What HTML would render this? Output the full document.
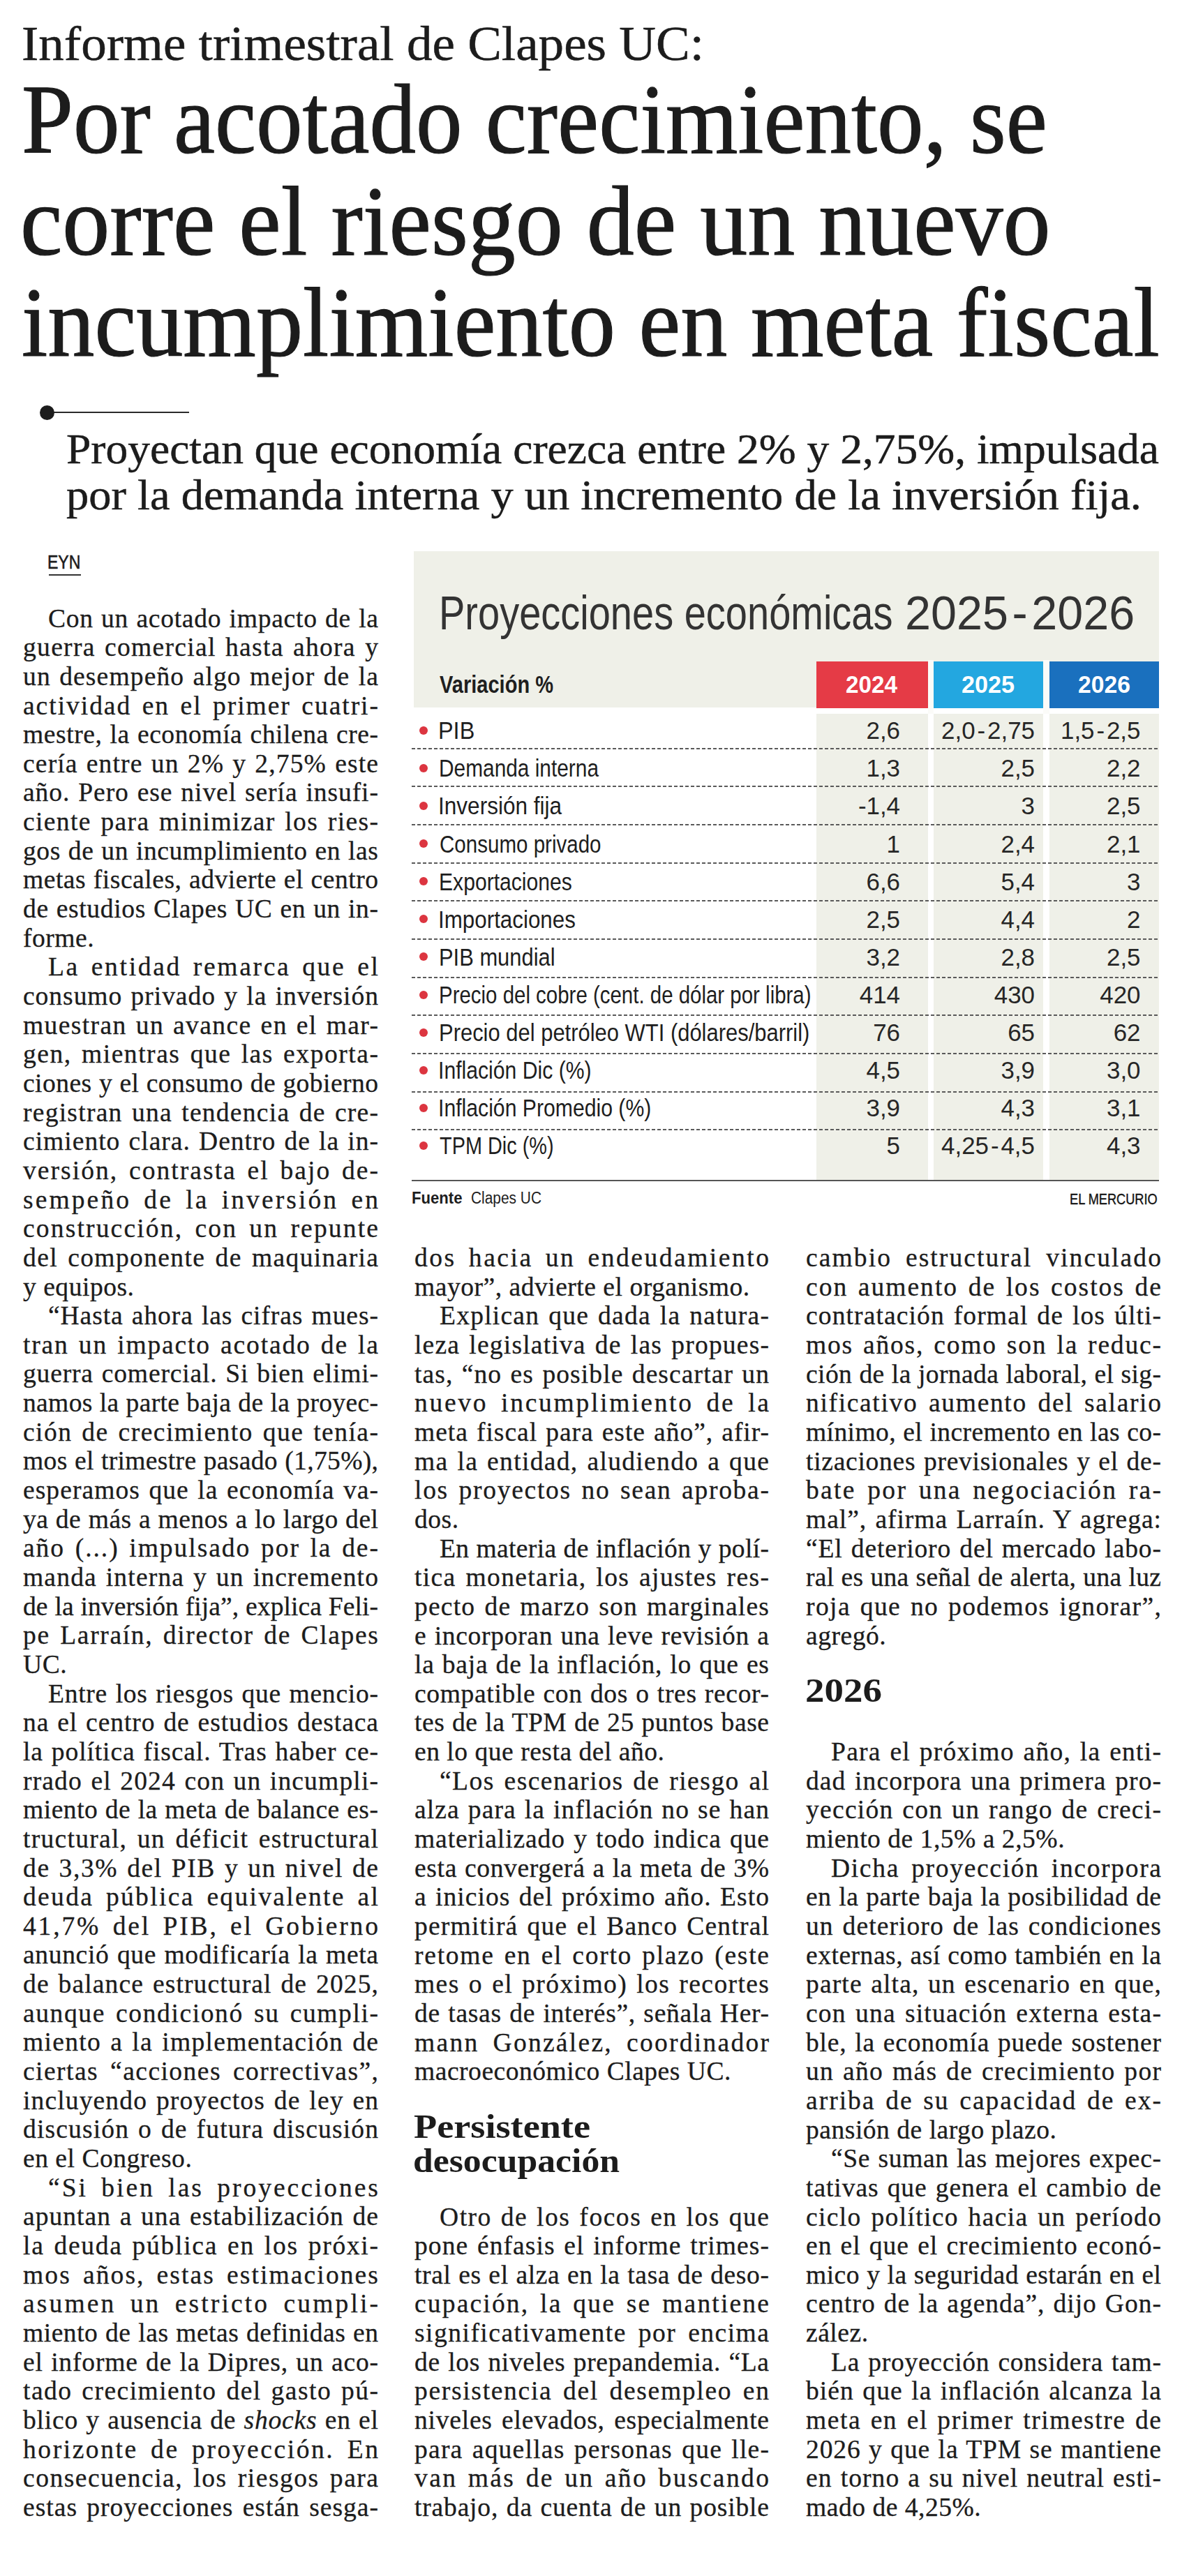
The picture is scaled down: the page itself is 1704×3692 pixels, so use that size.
<!DOCTYPE html>
<html><head><meta charset="utf-8"><title>Informe trimestral de Clapes UC</title>
<style>
html,body{margin:0;padding:0;background:#fff;}
body{width:1704px;height:3692px;position:relative;overflow:hidden;}
.t{position:absolute;white-space:nowrap;transform-origin:0 0;}
.b{position:absolute;font-family:'Liberation Serif', serif;font-size:37.6px;line-height:37.6px;color:#1c1c1c;white-space:nowrap;-webkit-text-stroke:0.3px #1c1c1c;}
.j{text-align:justify;text-align-last:justify;white-space:normal;height:37.6px;overflow:visible;}
.dash{position:absolute;height:2px;background-image:linear-gradient(to right,#5a5a5a 0,#5a5a5a 5px,transparent 5px,transparent 8px);background-size:8px 2px;}
</style></head><body>
<div class="t" id="kick" style="left:30.98px;top:27.2px;font-size:70.20px;line-height:70.20px;font-family:'Liberation Serif', serif;font-weight:400;color:#1c1c1c;transform:scaleX(1.0411);-webkit-text-stroke:0.5px #1c1c1c;">Informe trimestral de Clapes UC:</div>
<div class="t" id="hl0" style="left:30.89px;top:100.1px;font-size:142.00px;line-height:142.00px;font-family:'Liberation Serif', serif;font-weight:400;color:#1c1c1c;transform:scaleX(0.9366);-webkit-text-stroke:1.2px #1c1c1c;">Por acotado crecimiento, se</div>
<div class="t" id="hl1" style="left:28.96px;top:245.6px;font-size:142.00px;line-height:142.00px;font-family:'Liberation Serif', serif;font-weight:400;color:#1c1c1c;transform:scaleX(0.9578);-webkit-text-stroke:1.2px #1c1c1c;">corre el riesgo de un nuevo</div>
<div class="t" id="hl2" style="left:31.44px;top:391.1px;font-size:142.00px;line-height:142.00px;font-family:'Liberation Serif', serif;font-weight:400;color:#1c1c1c;transform:scaleX(0.9464);-webkit-text-stroke:1.2px #1c1c1c;">incumplimiento en meta fiscal</div>
<div style="position:absolute;left:70px;top:589.5px;width:201px;height:2px;background:#2a2a2a"></div>
<div style="position:absolute;left:57px;top:580.5px;width:21px;height:21px;border-radius:50%;background:#1c1c1c"></div>
<div class="t" id="dk0" style="left:95.00px;top:612.9px;font-size:61.00px;line-height:61.00px;font-family:'Liberation Serif', serif;font-weight:400;color:#1c1c1c;transform:scaleX(1.0412);-webkit-text-stroke:0.5px #1c1c1c;">Proyectan que economía crezca entre 2% y 2,75%, impulsada</div>
<div class="t" id="dk1" style="left:95.00px;top:678.9px;font-size:61.00px;line-height:61.00px;font-family:'Liberation Serif', serif;font-weight:400;color:#1c1c1c;transform:scaleX(1.0566);-webkit-text-stroke:0.5px #1c1c1c;">por la demanda interna y un incremento de la inversión fija.</div>
<div class="t" id="eyn" style="left:67.85px;top:792.1px;font-size:27.60px;line-height:27.60px;font-family:'Liberation Sans', sans-serif;font-weight:400;color:#1c1c1c;transform:scaleX(0.8339);-webkit-text-stroke:0.6px #1c1c1c;">EYN</div>
<div style="position:absolute;left:70px;top:822.5px;width:46px;height:2px;background:#333"></div>
<div style="position:absolute;left:593px;top:790px;width:1068px;height:224px;background:#eff0e8"></div>
<div style="position:absolute;left:1170px;top:1023px;width:160px;height:669px;background:#eff0e8"></div>
<div style="position:absolute;left:1170px;top:948px;width:160px;height:67px;background:#e53b46"></div>
<div style="position:absolute;left:1338px;top:1023px;width:157px;height:669px;background:#eff0e8"></div>
<div style="position:absolute;left:1338px;top:948px;width:157px;height:67px;background:#23a7e0"></div>
<div style="position:absolute;left:1504px;top:1023px;width:157px;height:669px;background:#eff0e8"></div>
<div style="position:absolute;left:1504px;top:948px;width:157px;height:67px;background:#1a70be"></div>
<div style="position:absolute;left:1330px;top:946px;width:8px;height:77px;background:#fbfbf8"></div>
<div style="position:absolute;left:1495px;top:946px;width:9px;height:77px;background:#fbfbf8"></div>
<div class="t" id="ttl" style="left:628.95px;top:843.9px;font-size:68.00px;line-height:68.00px;font-family:'Liberation Sans', sans-serif;font-weight:400;color:#333;transform:scaleX(0.8235);">Proyecciones económicas</div>
<div class="t" id="ttl2" style="left:1296.94px;top:843.9px;font-size:68.00px;line-height:68.00px;font-family:'Liberation Sans', sans-serif;font-weight:400;color:#333;transform:scaleX(0.9779);">2025&#8202;-&#8202;2026</div>
<div class="t" id="var" style="left:630.00px;top:964.0px;font-size:34.90px;line-height:34.90px;font-family:'Liberation Sans', sans-serif;font-weight:700;color:#1e1e1e;transform:scaleX(0.8322);">Variación %</div>
<div class="t" id="yh2024" style="left:1212.48px;top:964.0px;font-size:34.90px;line-height:34.90px;font-family:'Liberation Sans', sans-serif;font-weight:700;color:#fff;transform:scaleX(0.9535);">2024</div>
<div class="t" id="yh2025" style="left:1377.91px;top:964.0px;font-size:34.90px;line-height:34.90px;font-family:'Liberation Sans', sans-serif;font-weight:700;color:#fff;transform:scaleX(0.9807);">2025</div>
<div class="t" id="yh2026" style="left:1544.97px;top:964.0px;font-size:34.90px;line-height:34.90px;font-family:'Liberation Sans', sans-serif;font-weight:700;color:#fff;transform:scaleX(0.9669);">2026</div>
<div style="position:absolute;left:601px;top:1040.7px;width:12px;height:12px;border-radius:50%;background:#dc3540"></div>
<div class="t" id="lab0" style="left:627.81px;top:1030.2px;font-size:34.90px;line-height:34.90px;font-family:'Liberation Sans', sans-serif;font-weight:400;color:#1e1e1e;transform:scaleX(0.9292);">PIB</div>
<div class="t" id="v0_0" style="left:1241.5px;top:1030.2px;font-size:34.9px;line-height:34.9px;font-family:'Liberation Sans', sans-serif;color:#262626;transform:scaleX(1.0);transform-origin:100% 0">2,6</div>
<div class="t" id="v0_1" style="left:1349.1px;top:1030.2px;font-size:34.9px;line-height:34.9px;font-family:'Liberation Sans', sans-serif;color:#262626;transform:scaleX(1.0);transform-origin:100% 0">2,0&#8202;-&#8202;2,75</div>
<div class="t" id="v0_2" style="left:1520.0px;top:1030.2px;font-size:34.9px;line-height:34.9px;font-family:'Liberation Sans', sans-serif;color:#262626;transform:scaleX(1.0);transform-origin:100% 0">1,5&#8202;-&#8202;2,5</div>
<div class="dash" style="left:590px;top:1071.5px;width:1071px"></div>
<div style="position:absolute;left:601px;top:1094.8px;width:12px;height:12px;border-radius:50%;background:#dc3540"></div>
<div class="t" id="lab1" style="left:628.98px;top:1084.3px;font-size:34.90px;line-height:34.90px;font-family:'Liberation Sans', sans-serif;font-weight:400;color:#1e1e1e;transform:scaleX(0.8556);">Demanda interna</div>
<div class="t" id="v1_0" style="left:1241.5px;top:1084.3px;font-size:34.9px;line-height:34.9px;font-family:'Liberation Sans', sans-serif;color:#262626;transform:scaleX(1.0);transform-origin:100% 0">1,3</div>
<div class="t" id="v1_1" style="left:1434.5px;top:1084.3px;font-size:34.9px;line-height:34.9px;font-family:'Liberation Sans', sans-serif;color:#262626;transform:scaleX(1.0);transform-origin:100% 0">2,5</div>
<div class="t" id="v1_2" style="left:1586.0px;top:1084.3px;font-size:34.9px;line-height:34.9px;font-family:'Liberation Sans', sans-serif;color:#262626;transform:scaleX(1.0);transform-origin:100% 0">2,2</div>
<div class="dash" style="left:590px;top:1126.2px;width:1071px"></div>
<div style="position:absolute;left:601px;top:1148.9px;width:12px;height:12px;border-radius:50%;background:#dc3540"></div>
<div class="t" id="lab2" style="left:627.94px;top:1138.4px;font-size:34.90px;line-height:34.90px;font-family:'Liberation Sans', sans-serif;font-weight:400;color:#1e1e1e;transform:scaleX(0.9045);">Inversión fija</div>
<div class="t" id="v2_0" style="left:1229.9px;top:1138.4px;font-size:34.9px;line-height:34.9px;font-family:'Liberation Sans', sans-serif;color:#262626;transform:scaleX(1.0);transform-origin:100% 0">-1,4</div>
<div class="t" id="v2_1" style="left:1463.6px;top:1138.4px;font-size:34.9px;line-height:34.9px;font-family:'Liberation Sans', sans-serif;color:#262626;transform:scaleX(1.0);transform-origin:100% 0">3</div>
<div class="t" id="v2_2" style="left:1586.0px;top:1138.4px;font-size:34.9px;line-height:34.9px;font-family:'Liberation Sans', sans-serif;color:#262626;transform:scaleX(1.0);transform-origin:100% 0">2,5</div>
<div class="dash" style="left:590px;top:1180.9px;width:1071px"></div>
<div style="position:absolute;left:601px;top:1203.0px;width:12px;height:12px;border-radius:50%;background:#dc3540"></div>
<div class="t" id="lab3" style="left:629.99px;top:1192.5px;font-size:34.90px;line-height:34.90px;font-family:'Liberation Sans', sans-serif;font-weight:400;color:#1e1e1e;transform:scaleX(0.8467);">Consumo privado</div>
<div class="t" id="v3_0" style="left:1270.6px;top:1192.5px;font-size:34.9px;line-height:34.9px;font-family:'Liberation Sans', sans-serif;color:#262626;transform:scaleX(1.0);transform-origin:100% 0">1</div>
<div class="t" id="v3_1" style="left:1434.5px;top:1192.5px;font-size:34.9px;line-height:34.9px;font-family:'Liberation Sans', sans-serif;color:#262626;transform:scaleX(1.0);transform-origin:100% 0">2,4</div>
<div class="t" id="v3_2" style="left:1586.0px;top:1192.5px;font-size:34.9px;line-height:34.9px;font-family:'Liberation Sans', sans-serif;color:#262626;transform:scaleX(1.0);transform-origin:100% 0">2,1</div>
<div class="dash" style="left:590px;top:1235.5px;width:1071px"></div>
<div style="position:absolute;left:601px;top:1257.1px;width:12px;height:12px;border-radius:50%;background:#dc3540"></div>
<div class="t" id="lab4" style="left:628.97px;top:1246.6px;font-size:34.90px;line-height:34.90px;font-family:'Liberation Sans', sans-serif;font-weight:400;color:#1e1e1e;transform:scaleX(0.8631);">Exportaciones</div>
<div class="t" id="v4_0" style="left:1241.5px;top:1246.6px;font-size:34.9px;line-height:34.9px;font-family:'Liberation Sans', sans-serif;color:#262626;transform:scaleX(1.0);transform-origin:100% 0">6,6</div>
<div class="t" id="v4_1" style="left:1434.5px;top:1246.6px;font-size:34.9px;line-height:34.9px;font-family:'Liberation Sans', sans-serif;color:#262626;transform:scaleX(1.0);transform-origin:100% 0">5,4</div>
<div class="t" id="v4_2" style="left:1615.1px;top:1246.6px;font-size:34.9px;line-height:34.9px;font-family:'Liberation Sans', sans-serif;color:#262626;transform:scaleX(1.0);transform-origin:100% 0">3</div>
<div class="dash" style="left:590px;top:1290.2px;width:1071px"></div>
<div style="position:absolute;left:601px;top:1311.2px;width:12px;height:12px;border-radius:50%;background:#dc3540"></div>
<div class="t" id="lab5" style="left:627.94px;top:1300.7px;font-size:34.90px;line-height:34.90px;font-family:'Liberation Sans', sans-serif;font-weight:400;color:#1e1e1e;transform:scaleX(0.8985);">Importaciones</div>
<div class="t" id="v5_0" style="left:1241.5px;top:1300.7px;font-size:34.9px;line-height:34.9px;font-family:'Liberation Sans', sans-serif;color:#262626;transform:scaleX(1.0);transform-origin:100% 0">2,5</div>
<div class="t" id="v5_1" style="left:1434.5px;top:1300.7px;font-size:34.9px;line-height:34.9px;font-family:'Liberation Sans', sans-serif;color:#262626;transform:scaleX(1.0);transform-origin:100% 0">4,4</div>
<div class="t" id="v5_2" style="left:1615.1px;top:1300.7px;font-size:34.9px;line-height:34.9px;font-family:'Liberation Sans', sans-serif;color:#262626;transform:scaleX(1.0);transform-origin:100% 0">2</div>
<div class="dash" style="left:590px;top:1344.9px;width:1071px"></div>
<div style="position:absolute;left:601px;top:1365.4px;width:12px;height:12px;border-radius:50%;background:#dc3540"></div>
<div class="t" id="lab6" style="left:628.96px;top:1354.8px;font-size:34.90px;line-height:34.90px;font-family:'Liberation Sans', sans-serif;font-weight:400;color:#1e1e1e;transform:scaleX(0.8855);">PIB mundial</div>
<div class="t" id="v6_0" style="left:1241.5px;top:1354.8px;font-size:34.9px;line-height:34.9px;font-family:'Liberation Sans', sans-serif;color:#262626;transform:scaleX(1.0);transform-origin:100% 0">3,2</div>
<div class="t" id="v6_1" style="left:1434.5px;top:1354.8px;font-size:34.9px;line-height:34.9px;font-family:'Liberation Sans', sans-serif;color:#262626;transform:scaleX(1.0);transform-origin:100% 0">2,8</div>
<div class="t" id="v6_2" style="left:1586.0px;top:1354.8px;font-size:34.9px;line-height:34.9px;font-family:'Liberation Sans', sans-serif;color:#262626;transform:scaleX(1.0);transform-origin:100% 0">2,5</div>
<div class="dash" style="left:590px;top:1399.6px;width:1071px"></div>
<div style="position:absolute;left:601px;top:1419.5px;width:12px;height:12px;border-radius:50%;background:#dc3540"></div>
<div class="t" id="lab7" style="left:628.99px;top:1408.9px;font-size:34.90px;line-height:34.90px;font-family:'Liberation Sans', sans-serif;font-weight:400;color:#1e1e1e;transform:scaleX(0.8439);">Precio del cobre (cent. de dólar por libra)</div>
<div class="t" id="v7_0" style="left:1231.8px;top:1408.9px;font-size:34.9px;line-height:34.9px;font-family:'Liberation Sans', sans-serif;color:#262626;transform:scaleX(1.0);transform-origin:100% 0">414</div>
<div class="t" id="v7_1" style="left:1424.8px;top:1408.9px;font-size:34.9px;line-height:34.9px;font-family:'Liberation Sans', sans-serif;color:#262626;transform:scaleX(1.0);transform-origin:100% 0">430</div>
<div class="t" id="v7_2" style="left:1576.3px;top:1408.9px;font-size:34.9px;line-height:34.9px;font-family:'Liberation Sans', sans-serif;color:#262626;transform:scaleX(1.0);transform-origin:100% 0">420</div>
<div class="dash" style="left:590px;top:1454.3px;width:1071px"></div>
<div style="position:absolute;left:601px;top:1473.6px;width:12px;height:12px;border-radius:50%;background:#dc3540"></div>
<div class="t" id="lab8" style="left:628.98px;top:1463.0px;font-size:34.90px;line-height:34.90px;font-family:'Liberation Sans', sans-serif;font-weight:400;color:#1e1e1e;transform:scaleX(0.8868);">Precio del petróleo WTI (dólares/barril)</div>
<div class="t" id="v8_0" style="left:1251.2px;top:1463.0px;font-size:34.9px;line-height:34.9px;font-family:'Liberation Sans', sans-serif;color:#262626;transform:scaleX(1.0);transform-origin:100% 0">76</div>
<div class="t" id="v8_1" style="left:1444.2px;top:1463.0px;font-size:34.9px;line-height:34.9px;font-family:'Liberation Sans', sans-serif;color:#262626;transform:scaleX(1.0);transform-origin:100% 0">65</div>
<div class="t" id="v8_2" style="left:1595.7px;top:1463.0px;font-size:34.9px;line-height:34.9px;font-family:'Liberation Sans', sans-serif;color:#262626;transform:scaleX(1.0);transform-origin:100% 0">62</div>
<div class="dash" style="left:590px;top:1508.9px;width:1071px"></div>
<div style="position:absolute;left:601px;top:1527.7px;width:12px;height:12px;border-radius:50%;background:#dc3540"></div>
<div class="t" id="lab9" style="left:627.93px;top:1517.1px;font-size:34.90px;line-height:34.90px;font-family:'Liberation Sans', sans-serif;font-weight:400;color:#1e1e1e;transform:scaleX(0.8646);">Inflación Dic (%)</div>
<div class="t" id="v9_0" style="left:1241.5px;top:1517.1px;font-size:34.9px;line-height:34.9px;font-family:'Liberation Sans', sans-serif;color:#262626;transform:scaleX(1.0);transform-origin:100% 0">4,5</div>
<div class="t" id="v9_1" style="left:1434.5px;top:1517.1px;font-size:34.9px;line-height:34.9px;font-family:'Liberation Sans', sans-serif;color:#262626;transform:scaleX(1.0);transform-origin:100% 0">3,9</div>
<div class="t" id="v9_2" style="left:1586.0px;top:1517.1px;font-size:34.9px;line-height:34.9px;font-family:'Liberation Sans', sans-serif;color:#262626;transform:scaleX(1.0);transform-origin:100% 0">3,0</div>
<div class="dash" style="left:590px;top:1563.6px;width:1071px"></div>
<div style="position:absolute;left:601px;top:1581.8px;width:12px;height:12px;border-radius:50%;background:#dc3540"></div>
<div class="t" id="lab10" style="left:627.95px;top:1571.3px;font-size:34.90px;line-height:34.90px;font-family:'Liberation Sans', sans-serif;font-weight:400;color:#1e1e1e;transform:scaleX(0.8650);">Inflación Promedio (%)</div>
<div class="t" id="v10_0" style="left:1241.5px;top:1571.3px;font-size:34.9px;line-height:34.9px;font-family:'Liberation Sans', sans-serif;color:#262626;transform:scaleX(1.0);transform-origin:100% 0">3,9</div>
<div class="t" id="v10_1" style="left:1434.5px;top:1571.3px;font-size:34.9px;line-height:34.9px;font-family:'Liberation Sans', sans-serif;color:#262626;transform:scaleX(1.0);transform-origin:100% 0">4,3</div>
<div class="t" id="v10_2" style="left:1586.0px;top:1571.3px;font-size:34.9px;line-height:34.9px;font-family:'Liberation Sans', sans-serif;color:#262626;transform:scaleX(1.0);transform-origin:100% 0">3,1</div>
<div class="dash" style="left:590px;top:1618.3px;width:1071px"></div>
<div style="position:absolute;left:601px;top:1635.9px;width:12px;height:12px;border-radius:50%;background:#dc3540"></div>
<div class="t" id="lab11" style="left:629.99px;top:1625.4px;font-size:34.90px;line-height:34.90px;font-family:'Liberation Sans', sans-serif;font-weight:400;color:#1e1e1e;transform:scaleX(0.8273);">TPM Dic (%)</div>
<div class="t" id="v11_0" style="left:1270.6px;top:1625.4px;font-size:34.9px;line-height:34.9px;font-family:'Liberation Sans', sans-serif;color:#262626;transform:scaleX(1.0);transform-origin:100% 0">5</div>
<div class="t" id="v11_1" style="left:1349.1px;top:1625.4px;font-size:34.9px;line-height:34.9px;font-family:'Liberation Sans', sans-serif;color:#262626;transform:scaleX(1.0);transform-origin:100% 0">4,25&#8202;-&#8202;4,5</div>
<div class="t" id="v11_2" style="left:1586.0px;top:1625.4px;font-size:34.9px;line-height:34.9px;font-family:'Liberation Sans', sans-serif;color:#262626;transform:scaleX(1.0);transform-origin:100% 0">4,3</div>
<div style="position:absolute;left:590px;top:1691px;width:1071px;height:2px;background:#555"></div>
<div class="t" id="fu" style="left:589.99px;top:1704.6px;font-size:24.70px;line-height:24.70px;font-family:'Liberation Sans', sans-serif;font-weight:700;color:#1e1e1e;transform:scaleX(0.8965);">Fuente</div>
<div class="t" id="cl" style="left:674.98px;top:1704.6px;font-size:24.70px;line-height:24.70px;font-family:'Liberation Sans', sans-serif;font-weight:400;color:#1e1e1e;transform:scaleX(0.8464);">Clapes UC</div>
<div class="t" id="em" style="left:1532.85px;top:1707.5px;font-size:21.80px;line-height:21.80px;font-family:'Liberation Sans', sans-serif;font-weight:400;color:#151515;transform:scaleX(0.8348);-webkit-text-stroke:0.4px #151515;">EL MERCURIO</div>
<div class="b j" id="c1l0" style="left:69px;top:867.5px;width:473.72px;letter-spacing:0.724px;">Con un acotado impacto de la</div>
<div class="b j" id="c1l1" style="left:33px;top:909.2px;width:510.28px;letter-spacing:1.277px;">guerra comercial hasta ahora y</div>
<div class="b j" id="c1l2" style="left:33px;top:950.8px;width:510.12px;letter-spacing:1.116px;">un desempeño algo mejor de la</div>
<div class="b j" id="c1l3" style="left:33px;top:992.5px;width:510.94px;letter-spacing:1.943px;">actividad en el primer cuatri-</div>
<div class="b j" id="c1l4" style="left:33px;top:1034.1px;width:509.55px;letter-spacing:0.545px;">mestre, la economía chilena cre-</div>
<div class="b j" id="c1l5" style="left:33px;top:1075.8px;width:510.14px;letter-spacing:1.136px;">cería entre un 2% y 2,75% este</div>
<div class="b j" id="c1l6" style="left:33px;top:1117.4px;width:509.90px;letter-spacing:0.905px;">año. Pero ese nivel sería insufi-</div>
<div class="b j" id="c1l7" style="left:33px;top:1159.1px;width:510.34px;letter-spacing:1.342px;">ciente para minimizar los ries-</div>
<div class="b j" id="c1l8" style="left:33px;top:1200.7px;width:509.56px;letter-spacing:0.557px;">gos de un incumplimiento en las</div>
<div class="b j" id="c1l9" style="left:33px;top:1242.4px;width:509.50px;letter-spacing:0.500px;">metas fiscales, advierte el centro</div>
<div class="b j" id="c1l10" style="left:33px;top:1284.0px;width:509.64px;letter-spacing:0.638px;">de estudios Clapes UC en un in-</div>
<div class="b" id="c1l11" style="left:33px;top:1325.7px;width:509.00px;letter-spacing:0.5px;">forme.</div>
<div class="b j" id="c1l12" style="left:69px;top:1367.3px;width:475.65px;letter-spacing:2.651px;">La entidad remarca que el</div>
<div class="b j" id="c1l13" style="left:33px;top:1409.0px;width:509.94px;letter-spacing:0.938px;">consumo privado y la inversión</div>
<div class="b j" id="c1l14" style="left:33px;top:1450.6px;width:510.37px;letter-spacing:1.369px;">muestran un avance en el mar-</div>
<div class="b j" id="c1l15" style="left:33px;top:1492.3px;width:510.52px;letter-spacing:1.525px;">gen, mientras que las exporta-</div>
<div class="b j" id="c1l16" style="left:33px;top:1533.9px;width:509.43px;letter-spacing:0.431px;">ciones y el consumo de gobierno</div>
<div class="b j" id="c1l17" style="left:33px;top:1575.6px;width:510.24px;letter-spacing:1.235px;">registran una tendencia de cre-</div>
<div class="b j" id="c1l18" style="left:33px;top:1617.2px;width:509.99px;letter-spacing:0.987px;">cimiento clara. Dentro de la in-</div>
<div class="b j" id="c1l19" style="left:33px;top:1658.9px;width:511.03px;letter-spacing:2.026px;">versión, contrasta el bajo de-</div>
<div class="b j" id="c1l20" style="left:33px;top:1700.5px;width:512.08px;letter-spacing:3.075px;">sempeño de la inversión en</div>
<div class="b j" id="c1l21" style="left:33px;top:1742.2px;width:511.14px;letter-spacing:2.140px;">construcción, con un repunte</div>
<div class="b j" id="c1l22" style="left:33px;top:1783.8px;width:510.34px;letter-spacing:1.336px;">del componente de maquinaria</div>
<div class="b" id="c1l23" style="left:33px;top:1825.5px;width:509.00px;letter-spacing:0.5px;">y equipos.</div>
<div class="b j" id="c1l24" style="left:69px;top:1867.1px;width:473.90px;letter-spacing:0.902px;">“Hasta ahora las cifras mues-</div>
<div class="b j" id="c1l25" style="left:33px;top:1908.8px;width:510.81px;letter-spacing:1.808px;">tran un impacto acotado de la</div>
<div class="b j" id="c1l26" style="left:33px;top:1950.4px;width:509.80px;letter-spacing:0.804px;">guerra comercial. Si bien elimi-</div>
<div class="b j" id="c1l27" style="left:33px;top:1992.1px;width:509.31px;letter-spacing:0.314px;">namos la parte baja de la proyec-</div>
<div class="b j" id="c1l28" style="left:33px;top:2033.7px;width:510.44px;letter-spacing:1.443px;">ción de crecimiento que tenía-</div>
<div class="b j" id="c1l29" style="left:33px;top:2075.4px;width:509.32px;letter-spacing:0.320px;">mos el trimestre pasado (1,75%),</div>
<div class="b j" id="c1l30" style="left:33px;top:2117.0px;width:510.03px;letter-spacing:1.031px;">esperamos que la economía va-</div>
<div class="b j" id="c1l31" style="left:33px;top:2158.7px;width:509.50px;letter-spacing:0.500px;">ya de más a menos a lo largo del</div>
<div class="b j" id="c1l32" style="left:33px;top:2200.3px;width:510.94px;letter-spacing:1.941px;">año (...) impulsado por la de-</div>
<div class="b j" id="c1l33" style="left:33px;top:2242.0px;width:510.14px;letter-spacing:1.145px;">manda interna y un incremento</div>
<div class="b j" id="c1l34" style="left:33px;top:2283.6px;width:509.06px;letter-spacing:0.055px;">de la inversión fija”, explica Feli-</div>
<div class="b j" id="c1l35" style="left:33px;top:2325.3px;width:510.64px;letter-spacing:1.637px;">pe Larraín, director de Clapes</div>
<div class="b" id="c1l36" style="left:33px;top:2366.9px;width:509.00px;letter-spacing:0.5px;">UC.</div>
<div class="b j" id="c1l37" style="left:69px;top:2408.6px;width:473.73px;letter-spacing:0.727px;">Entre los riesgos que mencio-</div>
<div class="b j" id="c1l38" style="left:33px;top:2450.2px;width:509.91px;letter-spacing:0.908px;">na el centro de estudios destaca</div>
<div class="b j" id="c1l39" style="left:33px;top:2491.9px;width:509.88px;letter-spacing:0.879px;">la política fiscal. Tras haber ce-</div>
<div class="b j" id="c1l40" style="left:33px;top:2533.5px;width:510.13px;letter-spacing:1.134px;">rrado el 2024 con un incumpli-</div>
<div class="b j" id="c1l41" style="left:33px;top:2575.2px;width:509.50px;letter-spacing:0.500px;">miento de la meta de balance es-</div>
<div class="b j" id="c1l42" style="left:33px;top:2616.8px;width:510.26px;letter-spacing:1.260px;">tructural, un déficit estructural</div>
<div class="b j" id="c1l43" style="left:33px;top:2658.5px;width:510.60px;letter-spacing:1.603px;">de 3,3% del PIB y un nivel de</div>
<div class="b j" id="c1l44" style="left:33px;top:2700.1px;width:511.29px;letter-spacing:2.291px;">deuda pública equivalente al</div>
<div class="b j" id="c1l45" style="left:33px;top:2741.8px;width:511.82px;letter-spacing:2.816px;">41,7% del PIB, el Gobierno</div>
<div class="b j" id="c1l46" style="left:33px;top:2783.4px;width:509.64px;letter-spacing:0.642px;">anunció que modificaría la meta</div>
<div class="b j" id="c1l47" style="left:33px;top:2825.1px;width:510.10px;letter-spacing:1.100px;">de balance estructural de 2025,</div>
<div class="b j" id="c1l48" style="left:33px;top:2866.7px;width:510.57px;letter-spacing:1.572px;">aunque condicionó su cumpli-</div>
<div class="b j" id="c1l49" style="left:33px;top:2908.4px;width:510.26px;letter-spacing:1.260px;">miento a la implementación de</div>
<div class="b j" id="c1l50" style="left:33px;top:2950.0px;width:510.43px;letter-spacing:1.425px;">ciertas “acciones correctivas”,</div>
<div class="b j" id="c1l51" style="left:33px;top:2991.7px;width:510.11px;letter-spacing:1.107px;">incluyendo proyectos de ley en</div>
<div class="b j" id="c1l52" style="left:33px;top:3033.3px;width:510.12px;letter-spacing:1.123px;">discusión o de futura discusión</div>
<div class="b" id="c1l53" style="left:33px;top:3075.0px;width:509.00px;letter-spacing:0.5px;">en el Congreso.</div>
<div class="b j" id="c1l54" style="left:69px;top:3116.6px;width:475.95px;letter-spacing:2.947px;">“Si bien las proyecciones</div>
<div class="b j" id="c1l55" style="left:33px;top:3158.3px;width:510.02px;letter-spacing:1.019px;">apuntan a una estabilización de</div>
<div class="b j" id="c1l56" style="left:33px;top:3199.9px;width:510.69px;letter-spacing:1.691px;">la deuda pública en los próxi-</div>
<div class="b j" id="c1l57" style="left:33px;top:3241.6px;width:511.08px;letter-spacing:2.079px;">mos años, estas estimaciones</div>
<div class="b j" id="c1l58" style="left:33px;top:3283.2px;width:512.11px;letter-spacing:3.106px;">asumen un estricto cumpli-</div>
<div class="b j" id="c1l59" style="left:33px;top:3324.9px;width:509.50px;letter-spacing:0.500px;">miento de las metas definidas en</div>
<div class="b j" id="c1l60" style="left:33px;top:3366.5px;width:509.80px;letter-spacing:0.804px;">el informe de la Dipres, un aco-</div>
<div class="b j" id="c1l61" style="left:33px;top:3408.2px;width:510.44px;letter-spacing:1.441px;">tado crecimiento del gasto pú-</div>
<div class="b j" id="c1l62" style="left:33px;top:3449.8px;width:509.78px;letter-spacing:0.777px;">blico y ausencia de <i>shocks</i> en el</div>
<div class="b j" id="c1l63" style="left:33px;top:3491.5px;width:511.53px;letter-spacing:2.529px;">horizonte de proyección. En</div>
<div class="b j" id="c1l64" style="left:33px;top:3533.1px;width:510.50px;letter-spacing:1.497px;">consecuencia, los riesgos para</div>
<div class="b j" id="c1l65" style="left:33px;top:3574.8px;width:509.99px;letter-spacing:0.991px;">estas proyecciones están sesga-</div>
<div class="b j" id="c2l0" style="left:594px;top:1784.0px;width:510.50px;letter-spacing:2.499px;">dos hacia un endeudamiento</div>
<div class="b" id="c2l1" style="left:594px;top:1825.7px;width:508.00px;letter-spacing:0.5px;">mayor”, advierte el organismo.</div>
<div class="b j" id="c2l2" style="left:630px;top:1867.3px;width:473.20px;letter-spacing:1.204px;">Explican que dada la natura-</div>
<div class="b j" id="c2l3" style="left:594px;top:1909.0px;width:509.17px;letter-spacing:1.170px;">leza legislativa de las propues-</div>
<div class="b j" id="c2l4" style="left:594px;top:1950.6px;width:509.06px;letter-spacing:1.065px;">tas, “no es posible descartar un</div>
<div class="b j" id="c2l5" style="left:594px;top:1992.3px;width:510.69px;letter-spacing:2.690px;">nuevo incumplimiento de la</div>
<div class="b j" id="c2l6" style="left:594px;top:2033.9px;width:508.95px;letter-spacing:0.953px;">meta fiscal para este año”, afir-</div>
<div class="b j" id="c2l7" style="left:594px;top:2075.6px;width:509.30px;letter-spacing:1.303px;">ma la entidad, aludiendo a que</div>
<div class="b j" id="c2l8" style="left:594px;top:2117.2px;width:509.69px;letter-spacing:1.693px;">los proyectos no sean aproba-</div>
<div class="b" id="c2l9" style="left:594px;top:2158.9px;width:508.00px;letter-spacing:0.5px;">dos.</div>
<div class="b j" id="c2l10" style="left:630px;top:2200.5px;width:472.32px;letter-spacing:0.317px;">En materia de inflación y polí-</div>
<div class="b j" id="c2l11" style="left:594px;top:2242.2px;width:509.35px;letter-spacing:1.352px;">tica monetaria, los ajustes res-</div>
<div class="b j" id="c2l12" style="left:594px;top:2283.8px;width:509.19px;letter-spacing:1.194px;">pecto de marzo son marginales</div>
<div class="b j" id="c2l13" style="left:594px;top:2325.5px;width:508.68px;letter-spacing:0.675px;">e incorporan una leve revisión a</div>
<div class="b j" id="c2l14" style="left:594px;top:2367.1px;width:508.76px;letter-spacing:0.757px;">la baja de la inflación, lo que es</div>
<div class="b j" id="c2l15" style="left:594px;top:2408.8px;width:508.64px;letter-spacing:0.641px;">compatible con dos o tres recor-</div>
<div class="b j" id="c2l16" style="left:594px;top:2450.4px;width:508.55px;letter-spacing:0.549px;">tes de la TPM de 25 puntos base</div>
<div class="b" id="c2l17" style="left:594px;top:2492.1px;width:508.00px;letter-spacing:0.5px;">en lo que resta del año.</div>
<div class="b j" id="c2l18" style="left:630px;top:2533.7px;width:473.44px;letter-spacing:1.442px;">“Los escenarios de riesgo al</div>
<div class="b j" id="c2l19" style="left:594px;top:2575.4px;width:509.07px;letter-spacing:1.067px;">alza para la inflación no se han</div>
<div class="b j" id="c2l20" style="left:594px;top:2617.0px;width:508.88px;letter-spacing:0.884px;">materializado y todo indica que</div>
<div class="b j" id="c2l21" style="left:594px;top:2658.7px;width:508.63px;letter-spacing:0.635px;">esta convergerá a la meta de 3%</div>
<div class="b j" id="c2l22" style="left:594px;top:2700.3px;width:509.04px;letter-spacing:1.044px;">a inicios del próximo año. Esto</div>
<div class="b j" id="c2l23" style="left:594px;top:2742.0px;width:509.19px;letter-spacing:1.192px;">permitirá que el Banco Central</div>
<div class="b j" id="c2l24" style="left:594px;top:2783.6px;width:509.72px;letter-spacing:1.722px;">retome en el corto plazo (este</div>
<div class="b j" id="c2l25" style="left:594px;top:2825.3px;width:509.38px;letter-spacing:1.385px;">mes o el próximo) los recortes</div>
<div class="b j" id="c2l26" style="left:594px;top:2866.9px;width:508.70px;letter-spacing:0.698px;">de tasas de interés”, señala Her-</div>
<div class="b j" id="c2l27" style="left:594px;top:2908.6px;width:510.24px;letter-spacing:2.243px;">mann González, coordinador</div>
<div class="b" id="c2l28" style="left:594px;top:2950.2px;width:508.00px;letter-spacing:0.5px;">macroeconómico Clapes UC.</div>
<div class="t" id="c2s0" style="left:592.99px;top:3024.1px;font-size:48.90px;line-height:48.90px;font-family:'Liberation Serif', serif;font-weight:700;color:#1c1c1c;transform:scaleX(1.1094);">Persistente</div>
<div class="t" id="c2s1" style="left:591.98px;top:3073.1px;font-size:48.90px;line-height:48.90px;font-family:'Liberation Serif', serif;font-weight:700;color:#1c1c1c;transform:scaleX(1.0580);">desocupación</div>
<div class="b j" id="c2l29" style="left:630px;top:3158.5px;width:473.50px;letter-spacing:1.499px;">Otro de los focos en los que</div>
<div class="b j" id="c2l30" style="left:594px;top:3200.1px;width:509.05px;letter-spacing:1.045px;">pone énfasis el informe trimes-</div>
<div class="b j" id="c2l31" style="left:594px;top:3241.8px;width:508.59px;letter-spacing:0.594px;">tral es el alza en la tasa de deso-</div>
<div class="b j" id="c2l32" style="left:594px;top:3283.4px;width:510.14px;letter-spacing:2.142px;">cupación, la que se mantiene</div>
<div class="b j" id="c2l33" style="left:594px;top:3325.1px;width:509.46px;letter-spacing:1.463px;">significativamente por encima</div>
<div class="b j" id="c2l34" style="left:594px;top:3366.7px;width:508.64px;letter-spacing:0.642px;">de los niveles prepandemia. “La</div>
<div class="b j" id="c2l35" style="left:594px;top:3408.4px;width:509.67px;letter-spacing:1.665px;">persistencia del desempleo en</div>
<div class="b j" id="c2l36" style="left:594px;top:3450.0px;width:508.75px;letter-spacing:0.750px;">niveles elevados, especialmente</div>
<div class="b j" id="c2l37" style="left:594px;top:3491.7px;width:509.21px;letter-spacing:1.208px;">para aquellas personas que lle-</div>
<div class="b j" id="c2l38" style="left:594px;top:3533.3px;width:510.37px;letter-spacing:2.369px;">van más de un año buscando</div>
<div class="b j" id="c2l39" style="left:594px;top:3575.0px;width:508.80px;letter-spacing:0.804px;">trabajo, da cuenta de un posible</div>
<div class="b j" id="c3l0" style="left:1155px;top:1784.0px;width:511.08px;letter-spacing:2.081px;">cambio estructural vinculado</div>
<div class="b j" id="c3l1" style="left:1155px;top:1825.7px;width:510.99px;letter-spacing:1.989px;">con aumento de los costos de</div>
<div class="b j" id="c3l2" style="left:1155px;top:1867.3px;width:510.09px;letter-spacing:1.090px;">contratación formal de los últi-</div>
<div class="b j" id="c3l3" style="left:1155px;top:1909.0px;width:510.78px;letter-spacing:1.781px;">mos años, como son la reduc-</div>
<div class="b j" id="c3l4" style="left:1155px;top:1950.6px;width:509.38px;letter-spacing:0.384px;">ción de la jornada laboral, el sig-</div>
<div class="b j" id="c3l5" style="left:1155px;top:1992.3px;width:510.64px;letter-spacing:1.636px;">nificativo aumento del salario</div>
<div class="b j" id="c3l6" style="left:1155px;top:2033.9px;width:509.39px;letter-spacing:0.386px;">mínimo, el incremento en las co-</div>
<div class="b j" id="c3l7" style="left:1155px;top:2075.6px;width:509.70px;letter-spacing:0.703px;">tizaciones previsionales y el de-</div>
<div class="b j" id="c3l8" style="left:1155px;top:2117.2px;width:511.32px;letter-spacing:2.321px;">bate por una negociación ra-</div>
<div class="b j" id="c3l9" style="left:1155px;top:2158.9px;width:509.93px;letter-spacing:0.931px;">mal”, afirma Larraín. Y agrega:</div>
<div class="b j" id="c3l10" style="left:1155px;top:2200.5px;width:509.86px;letter-spacing:0.858px;">“El deterioro del mercado labo-</div>
<div class="b j" id="c3l11" style="left:1155px;top:2242.2px;width:509.30px;letter-spacing:0.296px;">ral es una señal de alerta, una luz</div>
<div class="b j" id="c3l12" style="left:1155px;top:2283.8px;width:510.40px;letter-spacing:1.403px;">roja que no podemos ignorar”,</div>
<div class="b" id="c3l13" style="left:1155px;top:2325.5px;width:509.00px;letter-spacing:0.5px;">agregó.</div>
<div class="t" id="c3s0" style="left:1153.53px;top:2399.4px;font-size:48.90px;line-height:48.90px;font-family:'Liberation Serif', serif;font-weight:700;color:#1c1c1c;transform:scaleX(1.1242);">2026</div>
<div class="b j" id="c3l14" style="left:1191px;top:2492.1px;width:474.25px;letter-spacing:1.246px;">Para el próximo año, la enti-</div>
<div class="b j" id="c3l15" style="left:1155px;top:2533.7px;width:510.05px;letter-spacing:1.052px;">dad incorpora una primera pro-</div>
<div class="b j" id="c3l16" style="left:1155px;top:2575.4px;width:510.25px;letter-spacing:1.248px;">yección con un rango de creci-</div>
<div class="b" id="c3l17" style="left:1155px;top:2617.0px;width:509.00px;letter-spacing:0.5px;">miento de 1,5% a 2,5%.</div>
<div class="b j" id="c3l18" style="left:1191px;top:2658.7px;width:474.65px;letter-spacing:1.648px;">Dicha proyección incorpora</div>
<div class="b j" id="c3l19" style="left:1155px;top:2700.3px;width:509.54px;letter-spacing:0.535px;">en la parte baja la posibilidad de</div>
<div class="b j" id="c3l20" style="left:1155px;top:2742.0px;width:510.07px;letter-spacing:1.071px;">un deterioro de las condiciones</div>
<div class="b j" id="c3l21" style="left:1155px;top:2783.6px;width:509.50px;letter-spacing:0.500px;">externas, así como también en la</div>
<div class="b j" id="c3l22" style="left:1155px;top:2825.3px;width:510.12px;letter-spacing:1.118px;">parte alta, un escenario en que,</div>
<div class="b j" id="c3l23" style="left:1155px;top:2866.9px;width:510.18px;letter-spacing:1.180px;">con una situación externa esta-</div>
<div class="b j" id="c3l24" style="left:1155px;top:2908.6px;width:509.77px;letter-spacing:0.775px;">ble, la economía puede sostener</div>
<div class="b j" id="c3l25" style="left:1155px;top:2950.2px;width:510.29px;letter-spacing:1.289px;">un año más de crecimiento por</div>
<div class="b j" id="c3l26" style="left:1155px;top:2991.9px;width:510.98px;letter-spacing:1.983px;">arriba de su capacidad de ex-</div>
<div class="b" id="c3l27" style="left:1155px;top:3033.5px;width:509.00px;letter-spacing:0.5px;">pansión de largo plazo.</div>
<div class="b j" id="c3l28" style="left:1191px;top:3075.2px;width:473.63px;letter-spacing:0.635px;">“Se suman las mejores expec-</div>
<div class="b j" id="c3l29" style="left:1155px;top:3116.8px;width:509.94px;letter-spacing:0.938px;">tativas que genera el cambio de</div>
<div class="b j" id="c3l30" style="left:1155px;top:3158.5px;width:510.34px;letter-spacing:1.340px;">ciclo político hacia un período</div>
<div class="b j" id="c3l31" style="left:1155px;top:3200.1px;width:509.99px;letter-spacing:0.992px;">en el que el crecimiento econó-</div>
<div class="b j" id="c3l32" style="left:1155px;top:3241.8px;width:509.44px;letter-spacing:0.439px;">mico y la seguridad estarán en el</div>
<div class="b j" id="c3l33" style="left:1155px;top:3283.4px;width:509.96px;letter-spacing:0.965px;">centro de la agenda”, dijo Gon-</div>
<div class="b" id="c3l34" style="left:1155px;top:3325.1px;width:509.00px;letter-spacing:0.5px;">zález.</div>
<div class="b j" id="c3l35" style="left:1191px;top:3366.7px;width:473.73px;letter-spacing:0.725px;">La proyección considera tam-</div>
<div class="b j" id="c3l36" style="left:1155px;top:3408.4px;width:510.07px;letter-spacing:1.066px;">bién que la inflación alcanza la</div>
<div class="b j" id="c3l37" style="left:1155px;top:3450.0px;width:510.52px;letter-spacing:1.525px;">meta en el primer trimestre de</div>
<div class="b j" id="c3l38" style="left:1155px;top:3491.7px;width:509.87px;letter-spacing:0.874px;">2026 y que la TPM se mantiene</div>
<div class="b j" id="c3l39" style="left:1155px;top:3533.3px;width:510.06px;letter-spacing:1.056px;">en torno a su nivel neutral esti-</div>
<div class="b" id="c3l40" style="left:1155px;top:3575.0px;width:509.00px;letter-spacing:0.5px;">mado de 4,25%.</div>
</body></html>
